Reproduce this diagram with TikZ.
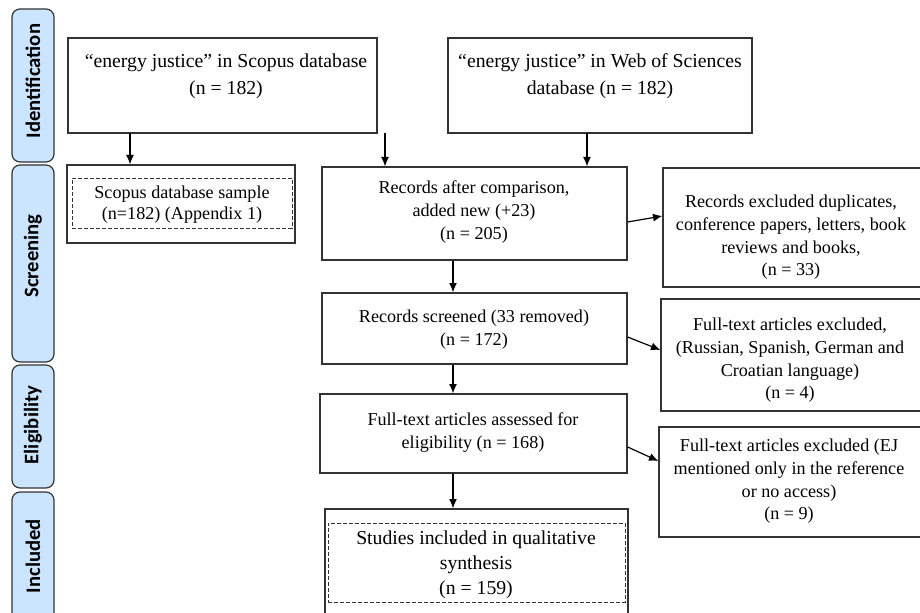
\documentclass[tikz,border=0pt]{standalone}
\usepackage{fontspec}
\setmainfont{Liberation Serif}
\newfontfamily\phasefont{Carlito}
\usetikzlibrary{arrows.meta,fit,calc}
\definecolor{phaseblue}{HTML}{CCE5FF}
\definecolor{edge}{HTML}{333333}
\begin{document}
\begin{tikzpicture}[x=0.75pt,y=-0.75pt,
  box/.style={draw=edge, line width=1pt, inner sep=0pt, fill=white},
  inbox/.style={draw=edge, line width=0.7pt, dashed, dash pattern=on 3pt off 1.5pt, inner sep=0pt},
  phase/.style={draw=edge, line width=0.9pt, fill=phaseblue, rounded corners=6pt, inner sep=0pt},
  txt/.style={align=center, font=\fontsize{13.6}{17}\selectfont, inner sep=0pt},
  toptxt/.style={align=center, font=\fontsize{14.8}{20.25}\selectfont, inner sep=0pt},
  smalltxt/.style={align=center, font=\fontsize{13.6}{16}\selectfont, inner sep=0pt},
  bigtxt/.style={align=center, font=\fontsize{14.8}{18.75}\selectfont, inner sep=0pt},
  ptxt/.style={rotate=90, font=\phasefont\bfseries\fontsize{15.5}{17}\selectfont, inner sep=0pt},
  arr/.style={-{Latex[length=7pt,width=6pt]}, line width=0.9pt, draw=black}]
\useasboundingbox (0,0) rectangle (920,613);
\clip (0,0) rectangle (920,613);
\fill[white] (0,0) rectangle (920,613);

% phase bars
\node[phase, fit={(12,9) (54,162)}] (p1) {};
\node[phase, fit={(12,165) (54,362)}] (p2) {};
\node[phase, fit={(12,365) (54,488)}] (p3) {};
\node[phase, fit={(12,492) (54,640)}] (p4) {};
\node[ptxt] (pt1) at (33,81) {Identification};
\node[ptxt] (pt2) at (33,256) {Screening};
\node[ptxt] (pt3) at (33,425) {Eligibility};
\node[ptxt] (pt4) at (33,556) {Included};

% boxes
\node[box, fit={(68,38) (377,133)}] (b1) {};
\node[box, fit={(448,38) (752,133)}] (b2) {};
\node[box, fit={(67,165) (295,243)}] (b3) {};
\node[inbox, fit={(72,178) (292,228)}] (b3i) {};
\node[box, fit={(322,167) (627,260)}] (b4) {};
\node[box, fit={(663,168) (925,287)}] (b5) {};
\node[box, fit={(322,293) (627,364)}] (b6) {};
\node[box, fit={(661,299) (925,411)}] (b7) {};
\node[box, fit={(320,394) (627,473)}] (b8) {};
\node[box, fit={(659,427) (925,537)}] (b9) {};
\node[box, fit={(325,509) (628,640)}] (b10) {};
\node[inbox, fit={(328,523) (625,602)}] (b10i) {};

% texts
\node[toptxt] (t1) at (226,76) {“energy justice” in Scopus database\\(n = 182)};
\node[toptxt] (t2) at (600,76) {“energy justice” in Web of Sciences\\database (n = 182)};
\node[smalltxt] (t3) at (182,204.5) {Scopus database sample\\(n=182) (Appendix 1)};
\node[txt] (t4) at (474,212) {Records after comparison,\\added new (+23)\\(n = 205)};
\node[txt] (t5) at (791,237.5) {Records excluded duplicates,\\conference papers, letters, book\\reviews and books,\\(n = 33)};
\node[txt] (t6) at (474,329.5) {Records screened (33 removed)\\(n = 172)};
\node[txt] (t7) at (790,360.5) {Full-text articles excluded,\\(Russian, Spanish, German and\\Croatian language)\\(n = 4)};
\node[txt] (t8) at (473,432.5) {Full-text articles assessed for\\eligibility (n = 168)};
\node[txt] (t9) at (789,481.5) {Full-text articles excluded (EJ\\mentioned only in the reference\\or no access)\\(n = 9)};
\node[bigtxt] (t10) at (476,565) {Studies included in qualitative\\synthesis\\(n = 159)};

% connectors
\coordinate (c1) at (130,133);
\coordinate (c2) at (385,133);
\coordinate (c3) at (587,133);
\coordinate (c4) at (453,0);
\draw[arr] (c1) -- (c1 |- b3.north);
\draw[arr] (c2) -- (c2 |- b4.north);
\draw[arr] (c3) -- (c3 |- b4.north);
\draw[arr] (b4.south -| c4) -- (b6.north -| c4);
\draw[arr] (b6.south -| c4) -- (b8.north -| c4);
\draw[arr] (b8.south -| c4) -- (b10.north -| c4);
\draw[arr] ($(b4.east)+(0,8.5)$) -- ($(b5.west)+(0,-11.5)$);
\draw[arr] ($(b6.east)+(0,8.5)$) -- ($(b7.west)+(0,-5)$);
\draw[arr] ($(b8.east)+(0,13.5)$) -- ($(b9.west)+(0,-21)$);
\end{tikzpicture}
\end{document}
